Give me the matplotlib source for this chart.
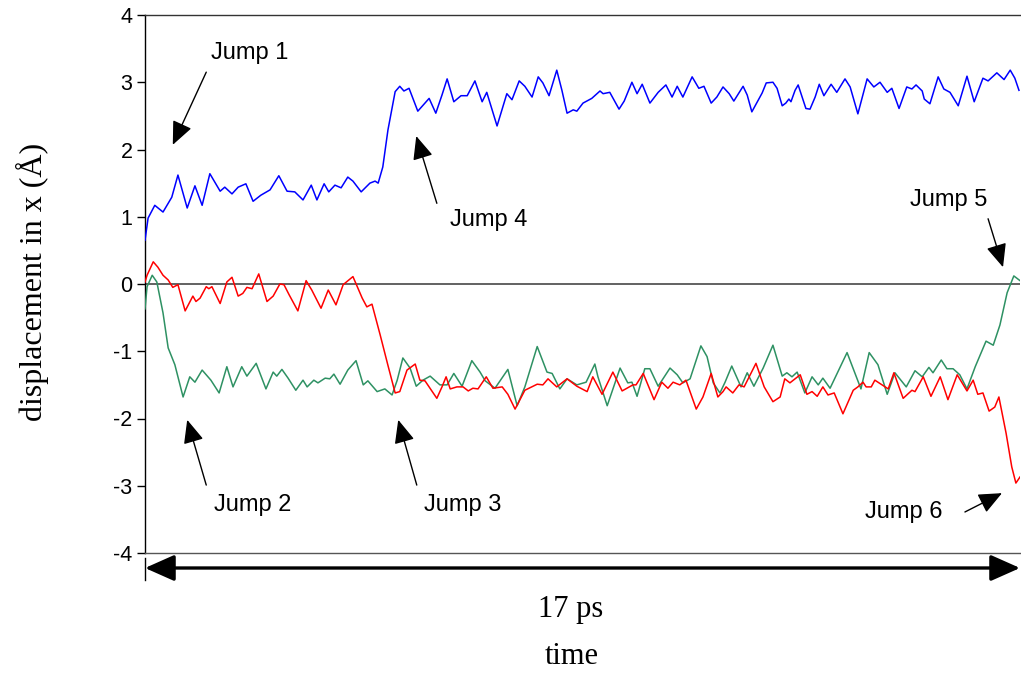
import matplotlib
matplotlib.use("Agg")
import matplotlib.pyplot as plt
from matplotlib.lines import Line2D

# ---- data (time in ps, displacement in Å) ----
blue_t = [0.00, 0.06, 0.19, 0.35, 0.52, 0.64, 0.82, 0.97, 1.11, 1.26, 1.46, 1.55, 1.69, 1.81, 1.96,
          2.10, 2.25, 2.43, 2.60, 2.76, 2.91, 3.07, 3.23, 3.34, 3.48, 3.57, 3.69, 3.81, 3.94, 4.04,
          4.20, 4.37, 4.47, 4.53, 4.62, 4.72, 4.86, 4.95, 5.03, 5.13, 5.30, 5.46, 5.52, 5.65, 5.77,
          5.87, 6.00, 6.14, 6.26, 6.41, 6.55, 6.64, 6.84, 7.03, 7.13, 7.27, 7.38, 7.52, 7.64, 7.73,
          7.85, 8.00, 8.10, 8.20, 8.32, 8.39, 8.51, 8.68, 8.84, 8.90, 9.03, 9.21, 9.31, 9.46, 9.56,
          9.66, 9.81, 9.97, 10.12, 10.24, 10.34, 10.45, 10.63, 10.76, 10.86, 11.00, 11.11, 11.23,
          11.35, 11.44, 11.62, 11.70, 11.79, 11.99, 12.07, 12.20, 12.28, 12.38, 12.45, 12.51, 12.55,
          12.63, 12.69, 12.84, 12.92, 13.02, 13.10, 13.19, 13.33, 13.44, 13.60, 13.70, 13.85, 14.03,
          14.16, 14.28, 14.42, 14.51, 14.65, 14.80, 14.90, 14.98, 15.10, 15.14, 15.25, 15.41, 15.52,
          15.64, 15.80, 15.97, 16.11, 16.28, 16.38, 16.55, 16.69, 16.81, 16.90, 16.98]
blue_v = [0.65, 0.98, 1.17, 1.07, 1.29, 1.62, 1.13, 1.46, 1.17, 1.64, 1.38, 1.44, 1.34, 1.44, 1.49,
          1.23, 1.32, 1.40, 1.61, 1.38, 1.37, 1.25, 1.47, 1.25, 1.49, 1.37, 1.47, 1.43, 1.59, 1.53,
          1.37, 1.50, 1.53, 1.50, 1.74, 2.29, 2.86, 2.94, 2.87, 2.91, 2.57, 2.71, 2.76, 2.54, 2.81,
          3.05, 2.71, 2.80, 2.80, 3.02, 2.71, 2.85, 2.35, 2.83, 2.74, 3.02, 2.94, 2.78, 3.08, 2.99,
          2.80, 3.18, 2.88, 2.54, 2.59, 2.57, 2.69, 2.76, 2.87, 2.83, 2.85, 2.60, 2.72, 3.00, 2.83,
          2.97, 2.69, 2.85, 2.96, 2.78, 2.94, 2.78, 3.08, 2.91, 2.94, 2.69, 2.78, 2.93,
          2.83, 2.72, 2.94, 2.81, 2.56, 2.84, 2.99, 3.00, 2.91, 2.65, 2.69, 2.75, 2.71,
          2.88, 2.96, 2.61, 2.60, 2.78, 2.97, 2.80, 2.97, 2.85, 3.05, 2.93, 2.53, 3.05,
          2.93, 3.00, 2.85, 2.91, 2.61, 2.93, 2.90, 2.96, 2.87, 2.75, 2.68, 3.08, 2.90,
          2.85, 2.65, 3.09, 2.71, 3.06, 3.02, 3.14, 3.04, 3.18, 3.06, 2.88]

red_t = [0.00, 0.04, 0.16, 0.25, 0.35, 0.45, 0.54, 0.64, 0.78, 0.93, 0.99, 1.07, 1.19, 1.24, 1.30,
         1.46, 1.59, 1.69, 1.81, 1.90, 1.98, 2.08, 2.21, 2.37, 2.49, 2.62, 2.70, 2.80, 2.97, 3.13,
         3.24, 3.42, 3.56, 3.71, 3.85, 4.04, 4.22, 4.31, 4.41, 4.57, 4.72, 4.86, 4.95, 5.09, 5.25,
         5.34, 5.44, 5.58, 5.67, 5.77, 5.85, 5.93, 6.06, 6.18, 6.28, 6.37, 6.47, 6.63, 6.76, 6.94,
         7.05, 7.19, 7.38, 7.62, 7.73, 7.83, 8.00, 8.20, 8.39, 8.59, 8.70, 8.88, 9.09, 9.27, 9.48,
         9.54, 9.68, 9.89, 10.04, 10.16, 10.26, 10.39, 10.51, 10.71, 10.84, 11.00, 11.13, 11.23,
         11.29, 11.42, 11.54, 11.64, 11.87, 12.03, 12.20, 12.34, 12.43, 12.53, 12.73, 12.86, 12.96,
         13.06, 13.17, 13.27, 13.39, 13.56, 13.76, 13.85, 13.95, 14.01, 14.11, 14.18, 14.38, 14.44,
         14.55, 14.73, 14.90, 14.96, 15.12, 15.27, 15.45, 15.60, 15.78, 15.97, 16.09, 16.18, 16.28,
         16.40, 16.51, 16.59, 16.73, 16.84, 16.92, 17.00]
red_v = [0.03, 0.13, 0.33, 0.25, 0.13, 0.06, -0.05, -0.01, -0.40, -0.18, -0.26, -0.21, -0.04, -0.07, -0.04,
         -0.29, 0.03, 0.10, -0.18, -0.14, -0.05, -0.07, 0.15, -0.26, -0.18, 0.00, -0.01, -0.16, -0.40, 0.05,
         -0.09, -0.36, -0.09, -0.31, -0.01, 0.11, -0.21, -0.34, -0.30, -0.76, -1.21, -1.62, -1.60, -1.28, -1.19,
         -1.43, -1.44, -1.60, -1.70, -1.53, -1.38, -1.56, -1.53, -1.53, -1.59, -1.55, -1.56, -1.38, -1.55, -1.53,
         -1.64, -1.86, -1.58, -1.49, -1.50, -1.41, -1.53, -1.41, -1.52, -1.60, -1.38, -1.64, -1.31, -1.59, -1.50,
         -1.50, -1.33, -1.72, -1.46, -1.55, -1.46, -1.50, -1.43, -1.86, -1.68, -1.33, -1.68, -1.60,
         -1.53, -1.62, -1.50, -1.53, -1.18, -1.53, -1.75, -1.68, -1.41, -1.47, -1.35, -1.64, -1.60,
         -1.67, -1.53, -1.65, -1.62, -1.93, -1.58, -1.53, -1.46, -1.53, -1.53, -1.43, -1.53, -1.56,
         -1.32, -1.70, -1.58, -1.60, -1.38, -1.67, -1.38, -1.72, -1.35, -1.59, -1.43, -1.64, -1.62,
         -1.89, -1.83, -1.68, -2.22, -2.72, -2.96, -2.87]

green_t = [0.00, 0.04, 0.14, 0.23, 0.35, 0.45, 0.58, 0.74, 0.87, 0.97, 1.11, 1.28, 1.44, 1.59, 1.71,
           1.88, 1.98, 2.16, 2.35, 2.49, 2.56, 2.66, 2.78, 2.93, 3.07, 3.15, 3.28, 3.36, 3.50, 3.59,
           3.67, 3.79, 3.94, 4.10, 4.24, 4.33, 4.51, 4.66, 4.80, 4.90, 5.01, 5.15, 5.27, 5.40, 5.54,
           5.73, 5.87, 6.00, 6.16, 6.35, 6.51, 6.61, 6.80, 7.05, 7.23, 7.38, 7.62, 7.81, 7.91, 8.06,
           8.20, 8.39, 8.57, 8.74, 8.80, 8.98, 9.23, 9.38, 9.46, 9.56, 9.71, 9.81, 9.97, 10.20, 10.34,
           10.45, 10.59, 10.80, 10.92, 11.04, 11.17, 11.27, 11.40, 11.58, 11.70, 11.83, 12.01, 12.20,
           12.38, 12.47, 12.57, 12.67, 12.82, 12.96, 13.08, 13.17, 13.31, 13.64, 13.91, 14.07, 14.24,
           14.42, 14.57, 14.79, 14.96, 15.10, 15.23, 15.31, 15.47, 15.58, 15.70, 15.83, 15.97, 16.13,
           16.34, 16.48, 16.61, 16.75, 16.88, 17.00]
green_v = [-0.37, -0.04, 0.13, 0.03, -0.43, -0.95, -1.20, -1.68, -1.38, -1.46, -1.28, -1.43, -1.62, -1.23, -1.53,
           -1.23, -1.37, -1.18, -1.56, -1.31, -1.37, -1.27, -1.40, -1.58, -1.43, -1.53, -1.43, -1.47, -1.40, -1.41,
           -1.34, -1.49, -1.28, -1.14, -1.50, -1.44, -1.60, -1.56, -1.65, -1.43, -1.10, -1.25, -1.52, -1.43, -1.37,
           -1.50, -1.50, -1.33, -1.52, -1.14, -1.31, -1.44, -1.55, -1.27, -1.81, -1.53, -0.93, -1.31, -1.33, -1.56,
           -1.41, -1.50, -1.46, -1.19, -1.38, -1.81, -1.25, -1.47, -1.46, -1.67, -1.26, -1.26, -1.52, -1.25, -1.35,
           -1.47, -1.41, -0.92, -1.08, -1.47, -1.62, -1.46, -1.22, -1.53, -1.32, -1.52, -1.25, -0.91,
           -1.37, -1.32, -1.38, -1.31, -1.62, -1.38, -1.50, -1.40, -1.55, -1.02, -1.56, -1.02, -1.20,
           -1.64, -1.32, -1.53, -1.29, -1.38, -1.24, -1.32, -1.13, -1.26, -1.26, -1.35, -1.56, -1.23,
           -0.85, -0.91, -0.61, -0.13, 0.12, 0.05]

y_ticks = [4, 3, 2, 1, 0, -1, -2, -3, -4]
y_tick_labels = ["4", "3", "2", "1", "0", "-1", "-2", "-3", "-4"]

# annotation labels: (text, text_xy, arrow_tail, arrow_tip) in data coords
jumps = [
    ("Jump 1", (2.04, 3.43), (1.19, 3.15), (0.54, 2.07)),
    ("Jump 2", (2.10, -3.29), (1.19, -2.99), (0.82, -2.02)),
    ("Jump 3", (6.18, -3.29), (5.28, -2.99), (4.92, -2.02)),
    ("Jump 4", (6.68, 0.95), (5.67, 1.20), (5.27, 2.20)),
    ("Jump 5", (15.62, 1.25), (16.38, 0.97), (16.67, 0.25)),
    ("Jump 6", (14.75, -3.39), (15.93, -3.39), (16.65, -3.11)),
]

W, H = 1021, 677
fig = plt.figure(figsize=(W / 100, H / 100), dpi=100)
ax = fig.add_axes([145 / W, 1 - 553 / H, (1020 - 145) / W, (553 - 15) / H])

ax.axhline(0, color="#555555", lw=1.3, zorder=1)
ax.plot(blue_t, blue_v, color="#0000ff", lw=1.1, zorder=3)
ax.plot(green_t, green_v, color="#2e9163", lw=1.1, zorder=3)
ax.plot(red_t, red_v, color="#ff0000", lw=1.1, zorder=4)

ax.set_xlim(0, 17)
ax.set_ylim(-4, 4)
ax.set_yticks(y_ticks)
ax.set_yticklabels(y_tick_labels, fontfamily="Liberation Sans", fontsize=15.5)
ax.tick_params(axis="y", direction="out", length=6, width=1, pad=3)
ax.set_xticks([])
ax.spines["right"].set_visible(False)
ax.spines["top"].set_color("#333333")
ax.spines["bottom"].set_color("#555555")
ax.spines["left"].set_color("black")
for s in ["top", "bottom", "left"]:
    ax.spines[s].set_linewidth(1.0)

for label, txy, tail, tip in jumps:
    ax.text(txy[0], txy[1], label, fontfamily="Liberation Sans", fontsize=17,
            ha="center", va="center")
    ax.annotate("", xy=tip, xytext=tail, xycoords="data", textcoords="data",
                arrowprops=dict(arrowstyle="-|>,head_length=0.8,head_width=0.35",
                                color="black", lw=1.0, mutation_scale=18,
                                shrinkA=0, shrinkB=0))

# double-headed time arrow below the axes
y_arr = 1 - 568 / H
fig.add_artist(Line2D([145 / W, 145 / W], [1 - 558 / H, 1 - 580 / H], color="black", lw=1.0))
ax.annotate("", xy=(1020 / W, y_arr), xytext=(145 / W, y_arr),
            xycoords="figure fraction", textcoords="figure fraction",
            arrowprops=dict(arrowstyle="<|-|>,head_length=0.9,head_width=0.4",
                            color="black", lw=2.4, mutation_scale=20,
                            shrinkA=0, shrinkB=0))

fig.text(571 / W, 1 - 610 / H, "17 ps", fontfamily="Liberation Serif", fontsize=22,
         ha="center", va="center")
fig.text(572 / W, 1 - 657 / H, "time", fontfamily="Liberation Serif", fontsize=22,
         ha="center", va="center")
fig.text(32 / W, 1 - 282 / H, "displacement in x (Å)", fontfamily="Liberation Serif",
         fontsize=23, rotation=90, ha="center", va="center")

fig.savefig("out.png", dpi=100)
